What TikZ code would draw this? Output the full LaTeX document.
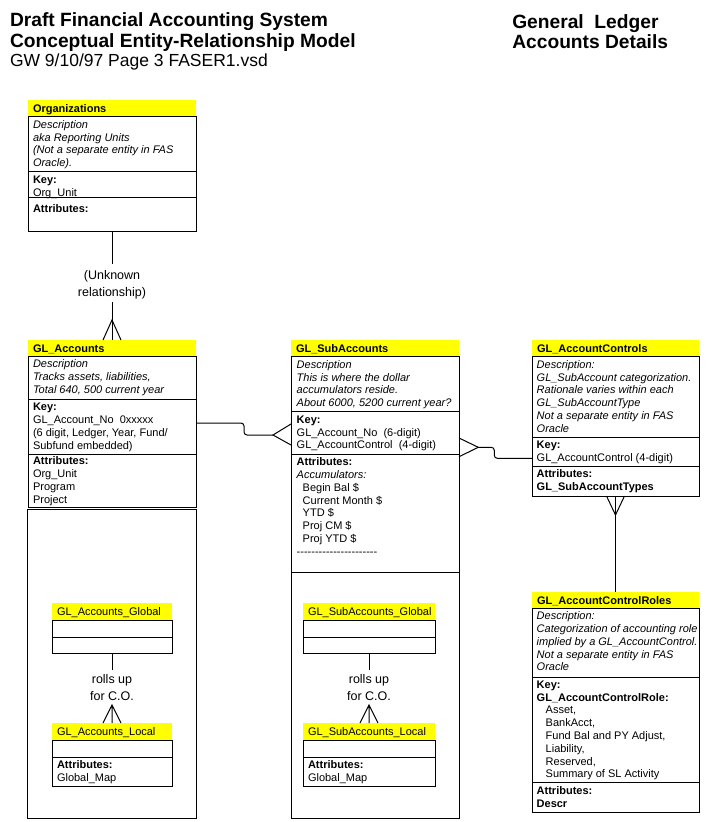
\documentclass[tikz,border=0pt]{standalone}
\usepackage{fontspec}
\setmainfont{Liberation Sans}
\definecolor{hy}{HTML}{FFFF00}
\tikzset{
  every node/.style={inner sep=0pt, outer sep=0pt},
  body/.style={draw, anchor=north west},
  hdr/.style={fill=hy, anchor=north west, minimum height=16pt, text height=9pt, text depth=1pt, inner xsep=5pt, align=left, font=\fontsize{11}{12.8}\selectfont\bfseries},
  shdr/.style={hdr, minimum height=17pt, font=\fontsize{11}{12.8}\selectfont},
  tx/.style={anchor=north west, align=left, font=\fontsize{11}{12.8}\selectfont},
  txi/.style={tx, font=\fontsize{11}{12.8}\selectfont\itshape},
  txb/.style={tx, font=\fontsize{11}{12.8}\selectfont\bfseries},
  lbl/.style={align=center, font=\fontsize{12.5}{16.5}\selectfont},
  ttl/.style={anchor=base west, font=\fontsize{19.2}{21}\selectfont\bfseries},
}
\begin{document}
\begin{tikzpicture}[x=1pt,y=-1pt,line width=1pt]
\useasboundingbox (0,0) rectangle (727,822);
% titles
\node[ttl] (t1) at (10,26.7) {Draft Financial Accounting System};
\node[ttl] (t2) at (10,47.7) {Conceptual Entity-Relationship Model};
\node[anchor=base west, font=\fontsize{17.5}{19}\selectfont] (t3) at (10,66) {GW 9/10/97 Page 3 FASER1.vsd};
\node[ttl] (t4) at (512.3,28.3) {General\ \ Ledger};
\node[ttl] (t5) at (512.3,48.3) {Accounts Details};

% Organizations
\node[hdr, text width=158pt] (orgH) at (28,100) {Organizations};
\node[body, minimum width=168pt, minimum height=115pt] (org) at (28,116) {};
\draw (28,171) -- (196,171) (28,197) -- (196,197);
\node[txi] (orgD) at (33,119.3) {\strut Description\\aka Reporting Units\\(Not a separate entity in FAS\\Oracle).};
\node[tx] (orgK) at (33,175) {\strut\textbf{Key:}\\Org\_Unit};
\node[txb] (orgA) at (33,204) {\strut Attributes:};

% GL_Accounts
\node[hdr, text width=158pt] (glaccH) at (28,340) {GL\_Accounts};
\node[body, minimum width=168pt, minimum height=151pt] (glacc) at (28,356) {};
\draw (28,399) -- (196,399) (28,454) -- (196,454);
\node[txi] (glaccD) at (33,359) {\strut Description\\Tracks assets, liabilities,\\Total 640, 500 current year};
\node[tx] (glaccK) at (33,401.7) {\strut\textbf{Key:}\\GL\_Account\_No\ \ 0xxxxx\\(6 digit, Ledger, Year, Fund/\\Subfund embedded)};
\node[tx] (glaccA) at (33,456) {\strut\textbf{Attributes:}\\Org\_Unit\\Program\\Project};
\node[body, minimum width=169pt, minimum height=309pt] (contA) at (27,509) {};

% GL_Accounts global / local
\node[shdr, text width=110pt] (gAH) at (52,603) {GL\_Accounts\_Global};
\node[body, minimum width=120pt, minimum height=33pt] (gA) at (52,620) {};
\draw (52,637) -- (172,637);
\node[lbl] (ruA) at (112,687.5) {rolls up\\for C.O.};
\node[shdr, text width=110pt] (lAH) at (52,723) {GL\_Accounts\_Local};
\node[body, minimum width=120pt, minimum height=46.7pt] (lA) at (52,740) {};
\draw (52,757.7) -- (172,757.7);
\node[tx] (lAA) at (57,759.3) {\strut\textbf{Attributes:}\\Global\_Map};
\draw (gA.south) -- ([yshift=5pt]ruA.north);
\draw ([xshift=-9pt]lAH.north) -- ([yshift=18pt]lAH.north) -- ([xshift=9pt]lAH.north)
      ([yshift=18pt]lAH.north) -- (lAH.north);

% GL_SubAccounts
\node[hdr, text width=158pt] (subH) at (291,340) {GL\_SubAccounts};
\node[body, minimum width=168pt, minimum height=216pt] (sub) at (291,356) {};
\draw (291,411) -- (459,411) (291,454) -- (459,454);
\node[txi] (subD) at (296.7,359.3) {\strut Description\\This is where the dollar\\accumulators reside.\\About 6000, 5200 current year?};
\node[tx] (subK) at (296.7,414.3) {\strut\textbf{Key:}\\GL\_Account\_No\ \ (6-digit)\\GL\_AccountControl\ \ (4-digit)};
\node[tx] (subA) at (296.7,456.7) {\strut\textbf{Attributes:}\\\textit{Accumulators:}\\\hspace*{6pt}Begin Bal \$\\\hspace*{6pt}Current Month \$\\\hspace*{6pt}YTD \$\\\hspace*{6pt}Proj CM \$\\\hspace*{6pt}Proj YTD \$\\-{}-{}-{}-{}-{}-{}-{}-{}-{}-{}-{}-{}-{}-{}-{}-{}-{}-{}-{}-{}-{}-{}};
\node[body, minimum width=168pt, minimum height=246pt] (contS) at (291,572) {};

% GL_SubAccounts global / local
\node[shdr, text width=122pt] (gSH) at (303,603) {GL\_SubAccounts\_Global};
\node[body, minimum width=132pt, minimum height=33pt] (gS) at (303,620) {};
\draw (303,637) -- (435,637);
\node[lbl] (ruS) at (369,687.5) {rolls up\\for C.O.};
\node[shdr, text width=122pt] (lSH) at (303,723) {GL\_SubAccounts\_Local};
\node[body, minimum width=132pt, minimum height=46.7pt] (lS) at (303,740) {};
\draw (303,757.7) -- (435,757.7);
\node[tx] (lSA) at (308,759.3) {\strut\textbf{Attributes:}\\Global\_Map};
\draw (gS.south) -- ([yshift=5pt]ruS.north);
\draw ([xshift=-9pt]lSH.north) -- ([yshift=18pt]lSH.north) -- ([xshift=9pt]lSH.north)
      ([yshift=18pt]lSH.north) -- (lSH.north);

% GL_AccountControls
\node[hdr, text width=157pt] (ctrlH) at (532,340) {GL\_AccountControls};
\node[body, minimum width=167pt, minimum height=140pt] (ctrl) at (532,356) {};
\draw (532,437) -- (699,437) (532,466) -- (699,466);
\node[txi] (ctrlD) at (536.7,359.3) {\strut Description:\\GL\_SubAccount categorization.\\Rationale varies within each\\GL\_SubAccountType\\Not a separate entity in FAS\\Oracle};
\node[tx] (ctrlK) at (536.7,440) {\strut\textbf{Key:}\\GL\_AccountControl (4-digit)};
\node[txb] (ctrlA) at (536.7,469) {\strut Attributes:\\GL\_SubAccountTypes};

% GL_AccountControlRoles
\node[hdr, text width=157pt] (rolH) at (532,592) {GL\_AccountControlRoles};
\node[body, minimum width=167pt, minimum height=204pt] (rol) at (532,608) {};
\draw (532,677) -- (699,677) (532,782) -- (699,782);
\node[txi] (rolD) at (536.7,610.7) {\strut Description:\\Categorization of accounting role\\implied by a GL\_AccountControl.\\Not a separate entity in FAS\\Oracle};
\node[tx] (rolK) at (536.7,679.3) {\strut\textbf{Key:}\\\textbf{GL\_AccountControlRole:}\\\hspace*{9pt}Asset,\\\hspace*{9pt}BankAcct,\\\hspace*{9pt}Fund Bal and PY Adjust,\\\hspace*{9pt}Liability,\\\hspace*{9pt}Reserved,\\\hspace*{9pt}Summary of SL Activity};
\node[txb] (rolA) at (536.7,785.7) {\strut Attributes:\\Descr};

% Organizations -> GL_Accounts
\node[lbl] (rel1) at (112,285) {(Unknown\\relationship)};
\draw (org.south) -- ([yshift=7pt]rel1.north);
\draw ([yshift=-3pt]rel1.south) -- (glaccH.north);
\draw ([xshift=-9pt]glaccH.north) -- ([yshift=20pt]glaccH.north) -- ([xshift=9pt]glaccH.north);

% GL_Accounts -> GL_SubAccounts
\draw[rounded corners=3pt] ([yshift=-67pt]glacc.north east) -- ++(48,0) -- ++(0,12) -- ([xshift=-18pt,yshift=-79pt]sub.north west);
\draw ([yshift=-68pt]sub.north west) -- ([xshift=-18pt,yshift=-79pt]sub.north west) -- ([yshift=-89pt]sub.north west);

% GL_SubAccounts -> GL_AccountControls
\draw ([yshift=-82pt]sub.north east) -- ([xshift=19.3pt,yshift=-91.3pt]sub.north east) -- ([yshift=-100.7pt]sub.north east);
\draw[rounded corners=3pt] ([xshift=19.3pt,yshift=-91.3pt]sub.north east) -- ++(16,0) -- ++(0,11) -- ([yshift=-102.3pt]ctrl.north west);

% GL_AccountControls -> GL_AccountControlRoles
\draw ([xshift=-9pt]ctrl.south) -- ([yshift=-19pt]ctrl.south) -- ([xshift=9pt]ctrl.south);
\draw (ctrl.south) -- (rolH.north);
\end{tikzpicture}
\end{document}
